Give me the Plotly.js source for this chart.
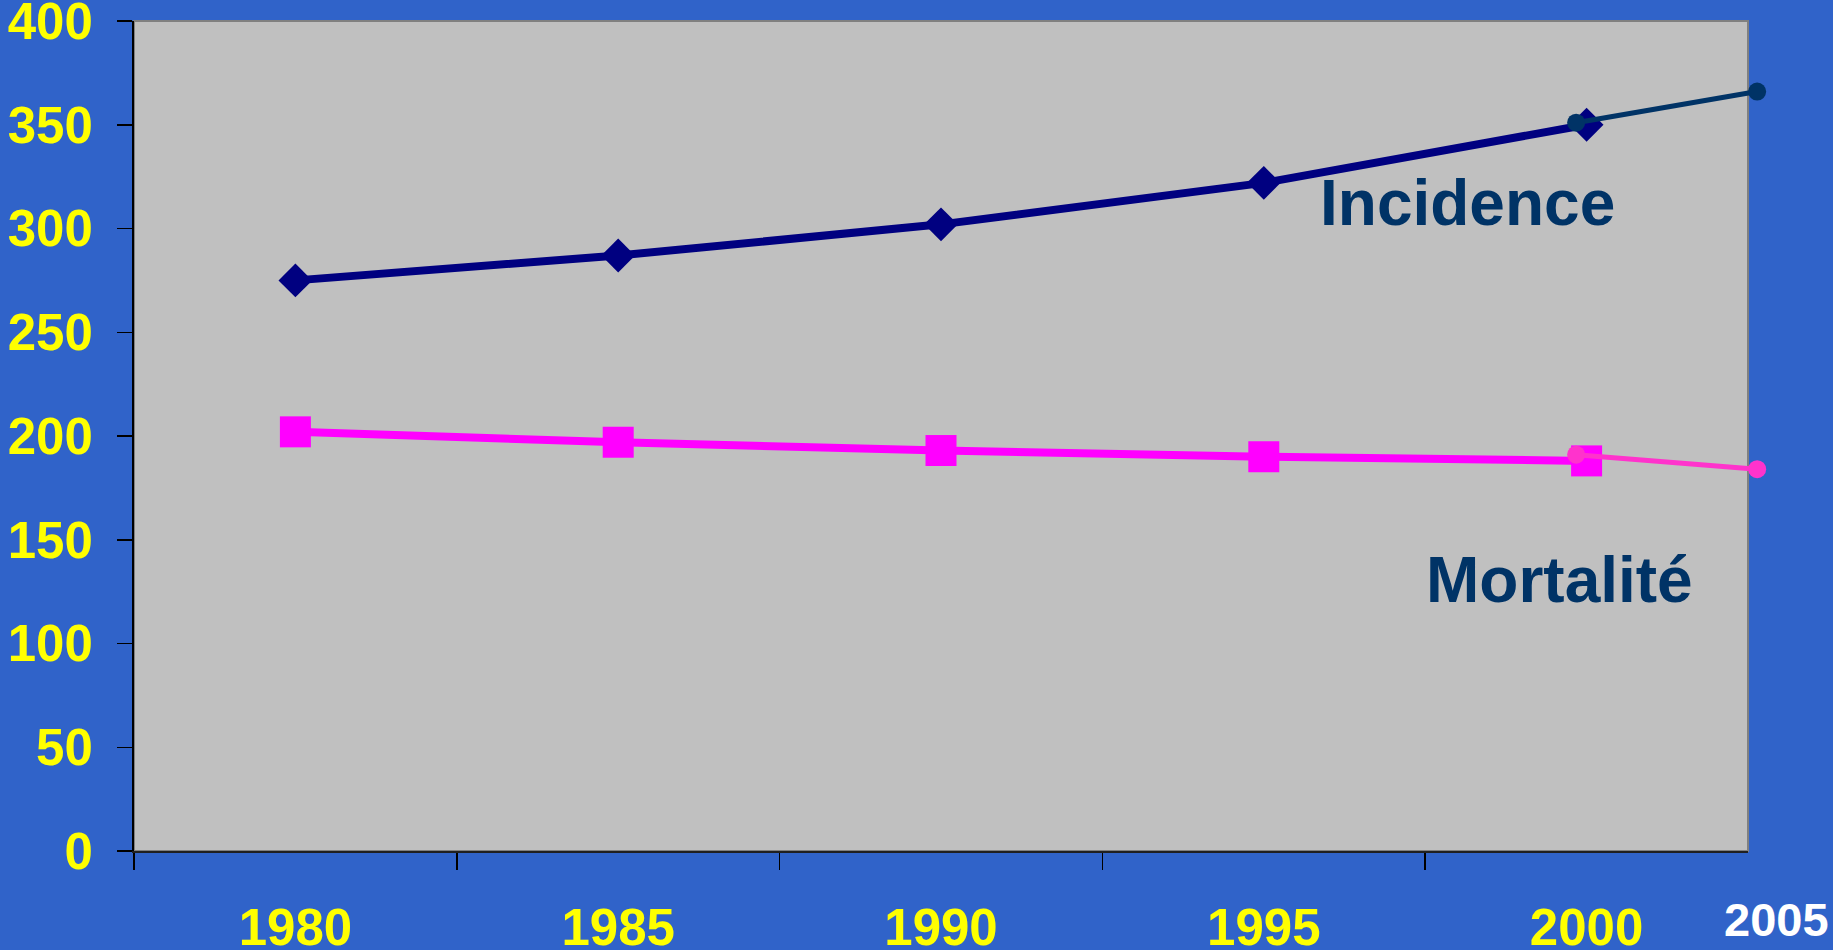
<!DOCTYPE html>
<html>
<head>
<meta charset="utf-8">
<script src="https://cdn.plot.ly/plotly-3.0.1.min.js"></script>
<style>
html,body{margin:0;padding:0;background:#3063C9;}
#chart{width:1833px;height:950px;}
</style>
</head>
<body>
<div id="chart"></div>
<script>
// ---- data ----
const years = ['1980', '1985', '1990', '1995', '2000'];
const incidence = [275, 287, 302, 322, 350];
const mortalite = [202, 197, 193, 190, 188];
const projYears = [2000, 2005];
const projIncidence = [351, 366];
const projMortalite = [191, 184];
const yTicks = [0, 50, 100, 150, 200, 250, 300, 350, 400];

const FONT = '"Liberation Sans", Arial, sans-serif';

const traces = [
  {
    x: years, y: incidence, type: 'scatter', mode: 'lines+markers', name: 'Incidence',
    line: {color: '#000080', width: 8},
    marker: {symbol: 'diamond', size: 26, color: '#000080'},
    cliponaxis: false, xaxis: 'x', yaxis: 'y'
  },
  {
    x: years, y: mortalite, type: 'scatter', mode: 'lines+markers', name: 'Mortalité',
    line: {color: '#FF00FF', width: 8},
    marker: {symbol: 'square', size: 31, color: '#FF00FF'},
    cliponaxis: false, xaxis: 'x', yaxis: 'y'
  },
  {
    x: projYears, y: projIncidence, type: 'scatter', mode: 'lines+markers', name: 'Incidence proj',
    line: {color: '#003366', width: 5},
    marker: {symbol: 'circle', size: 18, color: '#003366'},
    cliponaxis: false, xaxis: 'x2', yaxis: 'y2'
  },
  {
    x: projYears, y: projMortalite, type: 'scatter', mode: 'lines+markers', name: 'Mortalité proj',
    line: {color: '#FF33CC', width: 5},
    marker: {symbol: 'circle', size: 18, color: '#FF33CC'},
    cliponaxis: false, xaxis: 'x2', yaxis: 'y2'
  }
];

const layout = {
  width: 1833, height: 950,
  margin: {l: 134, r: 65, t: 21, b: 99, pad: 0},
  paper_bgcolor: '#3063C9',
  plot_bgcolor: 'rgba(0,0,0,0)',
  showlegend: false,
  font: {family: FONT, color: '#FFFF00', size: 51, weight: 'bold'},
  xaxis: {
    type: 'category', domain: [0, 0.98776], anchor: 'y',
    range: [-0.5, 4.5], tickson: 'boundaries',
    ticks: 'outside', ticklen: 17, tickwidth: 1.5, tickcolor: '#000000',
    showline: true, linecolor: '#202020', linewidth: 2,
    showgrid: false, zeroline: false,
    ticklabelstandoff: 31, ticklabeloverflow: 'allow',
    tickfont: {family: FONT, size: 51, color: '#FFFF00', weight: 'bold'}
  },
  yaxis: {
    range: [0, 400], tickvals: yTicks, anchor: 'x',
    ticks: 'outside', ticklen: 15, tickwidth: 1.5, tickcolor: '#000000',
    showline: true, linecolor: '#000000', linewidth: 2,
    showgrid: false, zeroline: false,
    ticklabelstandoff: 14, ticklabeloverflow: 'allow',
    tickfont: {family: FONT, size: 51, color: '#FFFF00', weight: 'bold'}
  },
  xaxis2: {
    domain: [0, 1], range: [1960.17, 2005.3], anchor: 'y2', visible: false,
    showgrid: false, zeroline: false, fixedrange: true
  },
  yaxis2: {
    domain: [0, 1], range: [0, 400], anchor: 'x2', visible: false,
    showgrid: false, zeroline: false, fixedrange: true
  },
  shapes: [
    {
      type: 'rect', layer: 'below',
      xref: 'x domain', yref: 'y domain', x0: 0, x1: 1, y0: 0, y1: 1,
      fillcolor: '#C0C0C0', line: {color: '#808080', width: 2}
    }
  ],
  annotations: [
    {
      text: 'Incidence', xref: 'paper', yref: 'paper', x: 0.8158, y: 0.7807,
      xanchor: 'center', yanchor: 'middle', showarrow: false,
      font: {family: FONT, size: 64, color: '#003366', weight: 'bold'}
    },
    {
      text: 'Mortalité', xref: 'paper', yref: 'paper', x: 0.8727, y: 0.3265,
      xanchor: 'center', yanchor: 'middle', showarrow: false,
      font: {family: FONT, size: 64, color: '#003366', weight: 'bold'}
    },
    {
      text: '2005', xref: 'paper', yref: 'paper', x: 1.0049, y: -0.0831,
      xanchor: 'center', yanchor: 'middle', showarrow: false,
      font: {family: FONT, size: 47, color: '#FFFFFF', weight: 'bold'}
    }
  ]
};

Plotly.newPlot('chart', traces, layout, {displayModeBar: false, staticPlot: true});
</script>
</body>
</html>
